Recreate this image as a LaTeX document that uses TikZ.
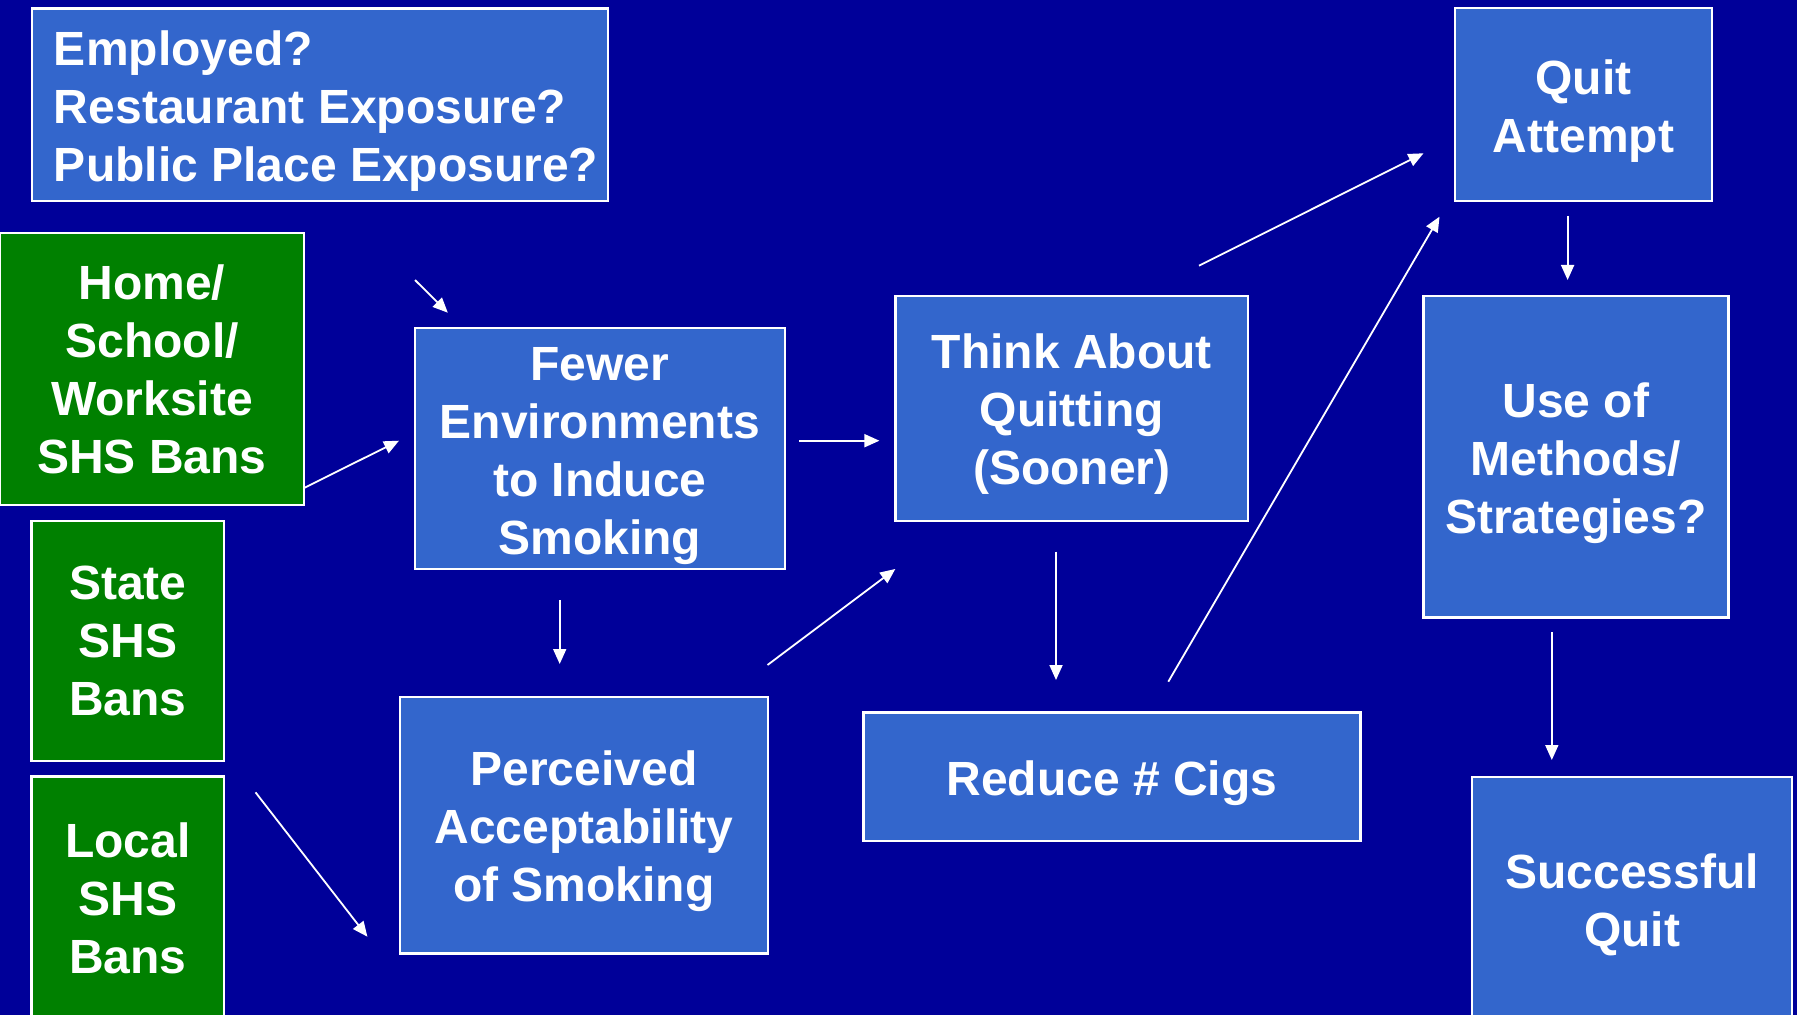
\documentclass[tikz,border=0pt]{standalone}
\usepackage{fontspec}
\setmainfont{Liberation Sans}
\usetikzlibrary{arrows.meta}
\definecolor{bg}{RGB}{0,0,153}
\definecolor{boxblue}{RGB}{51,102,204}
\definecolor{boxgreen}{RGB}{0,128,0}
\newcommand\tstrut{\rule{0pt}{23.5pt}}
\tikzset{
  bbox/.style={draw=white, line width=1.2pt, fill=boxblue, text=white, inner sep=0pt,
    font=\fontsize{24}{29}\selectfont\bfseries, align=center},
  gbox/.style={bbox, fill=boxgreen},
  arr/.style={draw=white, line width=0.9pt, -{Triangle[length=7.5pt,width=6.5pt]}}
}
\begin{document}
\begin{tikzpicture}[x=0.5pt,y=-0.5pt]
\fill[bg] (0,0) rectangle (1797,1015);
\useasboundingbox (0,0) rectangle (1797,1015);
% boxes
\node[bbox, align=flush left, text width=266pt, minimum width=288pt, minimum height=96.25pt] (emp) at (320,104.75)
  {\tstrut Employed?\\Restaurant Exposure?\\\mbox{Public Place Exposure?}};
\node[gbox, minimum width=152pt, minimum height=136pt] (home) at (152,369)
  {Home/\\School/\\Worksite\\SHS Bans};
\node[bbox, minimum width=184.85pt, minimum height=120.35pt] (fewer) at (599.85,448.65)
  {\tstrut Fewer\\Environments\\to Induce\\Smoking};
\node[bbox, minimum width=176.25pt, minimum height=112.35pt] (think) at (1071.75,408.35)
  {\tstrut Think About\\Quitting\\(Sooner)};
\node[bbox, minimum width=128.5pt, minimum height=96.5pt] (quit) at (1583.5,104.8)
  {\tstrut Quit\\Attempt};
\node[bbox, minimum width=152.5pt, minimum height=160.65pt] (use) at (1575.95,456.65)
  {\tstrut Use of\\Methods/\\Strategies?};
\node[gbox, minimum width=96.2pt, minimum height=120.15pt] (state) at (127.8,640.85)
  {State\\SHS\\Bans};
\node[gbox, minimum width=96.2pt, minimum height=121.5pt] (local) at (127.8,898)
  {Local\\SHS\\Bans};
\node[bbox, minimum width=184pt, minimum height=128.3pt] (perc) at (584,825)
  {\tstrut Perceived\\Acceptability\\of Smoking};
\node[bbox, minimum width=248.5pt, minimum height=64.35pt] (reduce) at (1111.8,776.65)
  {\tstrut Reduce \# Cigs};
\node[bbox, minimum width=160pt, minimum height=121.5pt] (succ) at (1632,898.5)
  {\tstrut Successful\\Quit};
% arrow end points
\coordinate (a1s) at (415,280);     \coordinate (a1e) at (447.8,312.7);
\coordinate (a2s) at (304,488);     \coordinate (a2e) at (399,440.7);
\coordinate (a3s) at (799,440.7);   \coordinate (a3e) at (879.4,440.7);
\coordinate (a4s) at (559.7,600);   \coordinate (a4e) at (559.7,664);
\coordinate (a5s) at (767.5,665);   \coordinate (a5e) at (895.3,569);
\coordinate (a6s) at (255.5,792.3); \coordinate (a6e) at (367.4,936.7);
\coordinate (a7s) at (1199,265.7);  \coordinate (a7e) at (1423.5,153.3);
\coordinate (a8s) at (1168.3,681.7);\coordinate (a8e) at (1439.5,216.7);
\coordinate (a9s) at (1056,551.7);  \coordinate (a9e) at (1056,680);
\coordinate (a10s) at (1567.6,216); \coordinate (a10e) at (1567.6,280);
\coordinate (a11s) at (1551.8,632.3);\coordinate (a11e) at (1551.8,760);
\draw[arr] (a1s) -- (a1e);
\draw[arr] (a2s) -- (a2e);
\draw[arr] (a3s) -- (a3e);
\draw[arr] (a4s) -- (a4e);
\draw[arr] (a5s) -- (a5e);
\draw[arr] (a6s) -- (a6e);
\draw[arr] (a7s) -- (a7e);
\draw[arr] (a8s) -- (a8e);
\draw[arr] (a9s) -- (a9e);
\draw[arr] (a10s) -- (a10e);
\draw[arr] (a11s) -- (a11e);
\end{tikzpicture}
\end{document}
